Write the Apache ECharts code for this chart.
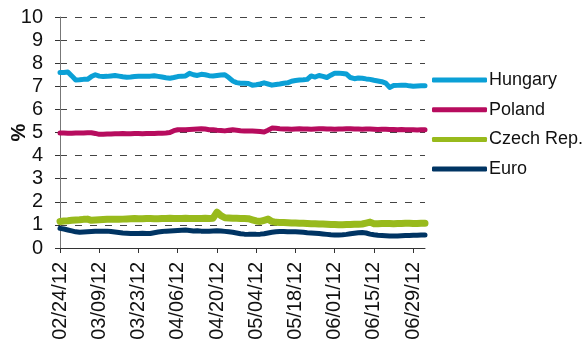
<!DOCTYPE html>
<html>
<head>
<meta charset="utf-8">
<script src="https://cdn.jsdelivr.net/npm/echarts@6/dist/echarts.min.js"></script>
<style>
html,body{margin:0;padding:0;background:#fff;}
#chart{width:586px;height:351px;}
</style>
</head>
<body>
<div id="chart"></div>
<script>
// business days starting 02/24/12 (94 of them, ends 07/04/12)
var startDay = new Date(2012, 1, 24);
var numDays = 94;

var seriesNames = ['Hungary', 'Poland', 'Czech Rep.', 'Euro'];
var seriesColors = ['#0BA0D6', '#B70C5E', '#98BA1C', '#003463'];

var hungary = [7.60,7.60,7.62,7.45,7.27,7.28,7.30,7.30,7.42,7.50,
    7.44,7.42,7.43,7.45,7.47,7.44,7.41,7.39,7.40,7.42,
    7.43,7.43,7.43,7.44,7.46,7.43,7.40,7.37,7.35,7.38,
    7.42,7.44,7.45,7.56,7.50,7.47,7.52,7.50,7.46,7.45,
    7.47,7.49,7.50,7.38,7.23,7.16,7.13,7.13,7.12,7.05,
    7.07,7.10,7.15,7.10,7.05,7.08,7.10,7.13,7.15,7.22,
    7.25,7.27,7.28,7.30,7.45,7.40,7.47,7.43,7.38,7.48,
    7.57,7.57,7.55,7.53,7.38,7.33,7.36,7.35,7.32,7.30,
    7.26,7.23,7.20,7.14,6.95,7.03,7.04,7.05,7.05,7.02,
    7.00,7.01,7.02,7.02];
var poland = [4.98,4.98,4.97,4.97,4.98,4.98,4.98,4.99,4.99,4.96,
    4.92,4.92,4.93,4.94,4.95,4.95,4.96,4.95,4.95,4.96,
    4.96,4.95,4.96,4.96,4.96,4.97,4.97,4.98,5.00,5.08,
    5.12,5.12,5.12,5.13,5.14,5.15,5.16,5.15,5.12,5.12,
    5.10,5.09,5.07,5.10,5.12,5.10,5.08,5.07,5.07,5.06,
    5.05,5.04,5.02,5.10,5.19,5.18,5.16,5.15,5.15,5.14,
    5.15,5.16,5.15,5.15,5.14,5.15,5.16,5.16,5.15,5.15,
    5.14,5.15,5.15,5.16,5.16,5.15,5.15,5.14,5.15,5.15,
    5.14,5.13,5.14,5.14,5.13,5.13,5.12,5.13,5.12,5.12,
    5.12,5.11,5.12,5.12];
var czech = [1.15,1.17,1.18,1.20,1.21,1.22,1.24,1.25,1.20,1.21,
    1.22,1.23,1.24,1.24,1.25,1.24,1.25,1.26,1.27,1.28,
    1.27,1.27,1.28,1.28,1.27,1.27,1.28,1.28,1.29,1.28,
    1.28,1.28,1.29,1.28,1.28,1.28,1.28,1.29,1.28,1.29,
    1.55,1.40,1.31,1.30,1.29,1.29,1.28,1.28,1.27,1.22,
    1.17,1.15,1.20,1.25,1.15,1.11,1.10,1.10,1.09,1.08,
    1.08,1.07,1.07,1.06,1.05,1.05,1.04,1.04,1.03,1.02,
    1.02,1.01,1.01,1.02,1.02,1.03,1.03,1.04,1.08,1.12,
    1.05,1.05,1.06,1.06,1.06,1.05,1.06,1.06,1.07,1.07,
    1.06,1.06,1.07,1.07];
var euro = [0.85,0.82,0.78,0.74,0.70,0.68,0.69,0.70,0.71,0.72,
    0.72,0.73,0.73,0.71,0.69,0.67,0.65,0.64,0.63,0.63,
    0.63,0.64,0.63,0.63,0.66,0.69,0.71,0.73,0.74,0.75,
    0.76,0.77,0.78,0.76,0.74,0.75,0.73,0.72,0.73,0.74,
    0.75,0.74,0.72,0.70,0.68,0.65,0.62,0.60,0.59,0.59,
    0.59,0.60,0.62,0.65,0.68,0.70,0.71,0.71,0.70,0.70,
    0.70,0.69,0.68,0.66,0.65,0.64,0.63,0.61,0.59,0.57,
    0.56,0.56,0.57,0.59,0.62,0.64,0.66,0.67,0.65,0.60,
    0.57,0.55,0.54,0.53,0.52,0.52,0.52,0.53,0.54,0.54,
    0.55,0.55,0.56,0.56];
var lineWidths = [5, 5, 7, 5];

function pad2(n) { return (n < 10 ? '0' : '') + n; }
var dates = [];
var d = new Date(startDay.getTime());
while (dates.length < numDays) {
    var wd = d.getDay();
    if (wd != 0 && wd != 6) {
        dates.push(pad2(d.getMonth() + 1) + '/' + pad2(d.getDate()) + '/' + pad2(d.getFullYear() % 100));
    }
    d.setDate(d.getDate() + 1);
}

var allData = [hungary, poland, czech, euro];
var series = [];
for (var i = 0; i < allData.length; i++) {
    series.push({
        name: seriesNames[i],
        type: 'line',
        data: allData[i],
        showSymbol: false,
        symbol: 'none',
        smooth: false,
        lineStyle: { width: lineWidths[i], color: seriesColors[i], cap: 'round', join: 'round' },
        itemStyle: { color: seriesColors[i] },
        z: 10 - i
    });
}

var font = 'Liberation Sans, Arial, sans-serif';
var myChart = echarts.init(document.getElementById('chart'), null, { renderer: 'canvas' });
var option = {
    animation: false,
    textStyle: { fontFamily: font },
    grid: { left: 60, right: 161, top: 17, bottom: 103, containLabel: false, outerBoundsMode: 'none' },
    legend: {
        orient: 'vertical',
        left: 427,
        top: 66,
        itemWidth: 55,
        itemHeight: 5,
        itemGap: 11.7,
        icon: 'roundRect',
        textStyle: { fontSize: 18, color: '#111', fontFamily: font, padding: [0, 0, 0, -3] },
        data: seriesNames
    },
    xAxis: {
        type: 'category',
        data: dates,
        boundaryGap: false,
        axisLine: { lineStyle: { color: '#333', width: 1 } },
        axisTick: { show: true, interval: 9, length: 5, inside: false, lineStyle: { color: '#333' } },
        axisLabel: { interval: 9, rotate: 90, fontSize: 20, color: '#111', margin: 14, fontFamily: font },
        splitLine: { show: false }
    },
    yAxis: {
        type: 'value',
        min: 0,
        max: 10,
        interval: 1,
        name: '%',
        nameLocation: 'middle',
        nameGap: 31,
        nameRotate: 90,
        nameMoveOverlap: false,
        nameTextStyle: { fontSize: 20, fontWeight: 'bold', color: '#111', fontFamily: font },
        axisLine: { show: true, lineStyle: { color: '#777', width: 1 } },
        axisTick: { show: true, length: 5, lineStyle: { color: '#333' } },
        axisLabel: { fontSize: 20, color: '#111', margin: 17, fontFamily: font },
        splitLine: { show: true, lineStyle: { color: '#444', type: [7, 8], width: 1 } }
    },
    series: series
};
myChart.setOption(option);
</script>
</body>
</html>
